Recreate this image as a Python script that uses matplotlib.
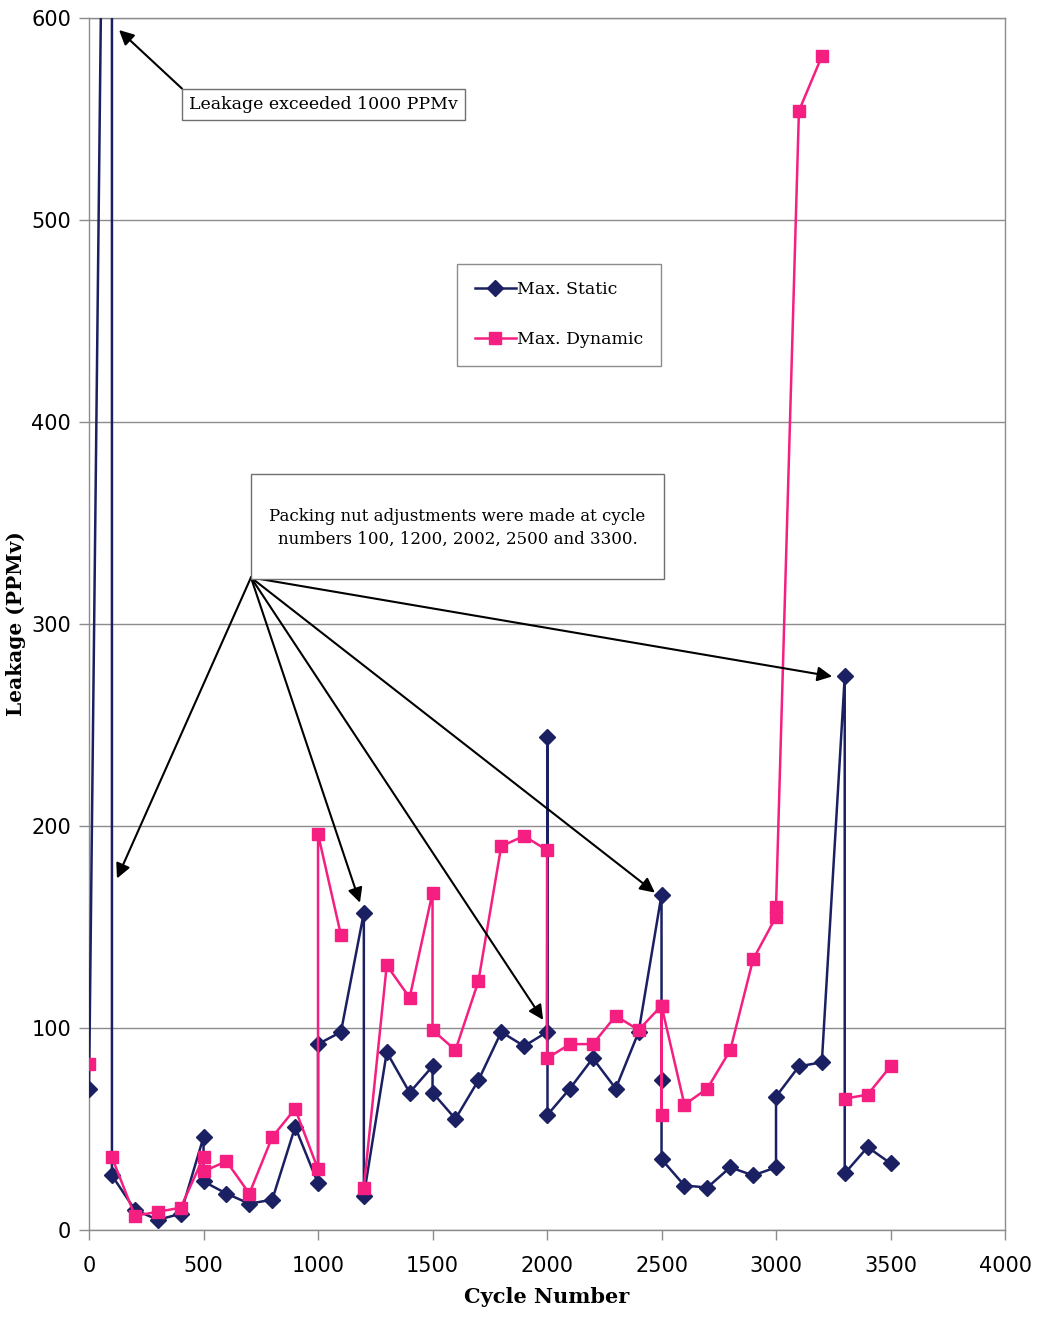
import numpy as np
import matplotlib
matplotlib.use("Agg")
import matplotlib.pyplot as plt
from matplotlib.patches import Rectangle

nan = np.nan

# Max. Static readings (repeated cycle = reading before/after a packing adjustment)
static_cycle = [0, 100, 100, 200, 300, 400, 500, 500, 600, 700, 800, 900,
                1000, 1000, 1100, 1200, 1200, 1300, 1400, 1500, 1500, 1600,
                1700, 1800, 1900, 2000, 2002, 2002, 2100, 2200, 2300, 2400,
                2500, 2500, 2500, 2600, 2700, 2800, 2900, 3000, 3000, 3100,
                3200, 3300, 3300, 3400, 3500]
static_ppm = [70, 1100, 27, 10, 5, 8, 46, 24, 18, 13, 15, 51,
              23, 92, 98, 157, 17, 88, 68, 81, 68, 55,
              74, 98, 91, 98, 244, 57, 70, 85, 70, 98,
              166, 74, 35, 22, 21, 31, 27, 31, 66, 81,
              83, 274, 28, 41, 33]

# Max. Dynamic readings (nan = missing reading, breaks the line)
dynamic_cycle = [0, 100, 100, 200, 300, 400, 500, 500, 600, 700, 800, 900,
                 1000, 1000, 1100, 1200, 1200, 1300, 1400, 1500, 1500, 1600,
                 1700, 1800, 1900, 2000, 2000, 2100, 2200, 2300, 2400,
                 2500, 2500, 2500, 2600, 2700, 2800, 2900, 3000, 3000, 3100,
                 3200, 3300, 3300, 3400, 3500]
dynamic_ppm = [82, nan, 36, 7, 9, 11, 36, 29, 34, 18, 46, 60,
               30, 196, 146, nan, 21, 131, 115, 167, 99, 89,
               123, 190, 195, 188, 85, 92, 92, 106, 99,
               111, 57, 111, 62, 70, 89, 134, 155, 160, 554,
               581, nan, 65, 67, 81]

x_ticks = [0, 500, 1000, 1500, 2000, 2500, 3000, 3500, 4000]
y_ticks = [0, 100, 200, 300, 400, 500, 600]

adjust_targets = [(122, 174), (1183, 162), (1983, 104), (2471, 167), (3245, 274)]

NAVY = "#1b2063"
PINK = "#f41f80"
GRID = "#8c8c8c"
EDGE = "#707070"
SERIF = ["DejaVu Serif"]

fig = plt.figure(figsize=(10.39, 13.18), dpi=100)
ax = fig.add_axes([0.0857, 0.0668, 0.8816, 0.9196])

ax.plot(static_cycle, static_ppm, color=NAVY, lw=1.8, marker="D",
        ms=8.5, mfc=NAVY, mec=NAVY, label="Max. Static", zorder=3)
ax.plot(dynamic_cycle, dynamic_ppm, color=PINK, lw=1.8, marker="s",
        ms=9, mfc=PINK, mec=PINK, label="Max. Dynamic", zorder=4)

ax.set_xlim(0, 4000)
ax.set_ylim(0, 600)
ax.set_xticks(x_ticks)
ax.set_yticks(y_ticks)
ax.tick_params(axis="both", labelsize=15, length=7, width=1, color=GRID,
               direction="out")
ax.tick_params(axis="x", pad=12)
ax.tick_params(axis="y", pad=6)
ax.grid(axis="y", color=GRID, lw=1)
ax.set_axisbelow(True)
for spine in ax.spines.values():
    spine.set_color(GRID)
    spine.set_linewidth(1)

ax.set_xlabel("Cycle Number", fontsize=15, fontweight="bold",
              family=SERIF, labelpad=8)
ax.set_ylabel("Leakage (PPMv)", fontsize=14.5, fontweight="bold",
              family=SERIF)
ax.yaxis.set_label_coords(-0.069, 0.5)

leg = ax.legend(loc="upper left", bbox_to_anchor=(0.402, 0.797),
                frameon=True, fancybox=False, edgecolor=EDGE,
                prop={"family": SERIF, "size": 12.5}, labelspacing=1.9,
                handlelength=2.4, handletextpad=0.05, borderpad=1.0,
                borderaxespad=0)
leg.get_frame().set_linewidth(1)

arrow = dict(arrowstyle="-|>", color="black", lw=1.5, mutation_scale=22,
             shrinkA=0, shrinkB=0)

# "exceeded" note
ax.annotate("", xy=(131, 594), xytext=(406, 565), arrowprops=arrow, zorder=5)
ax.add_patch(Rectangle((406, 549.5), 1236, 15.5, fc="white", ec=EDGE,
                       lw=1, zorder=6))
ax.text(1024, 557.3, "Leakage exceeded 1000 PPMv", ha="center", va="center",
        fontsize=12.5, family=SERIF, zorder=7)

# packing-nut note
for tx, ty in adjust_targets:
    ax.annotate("", xy=(tx, ty), xytext=(707, 323), arrowprops=arrow, zorder=5)
ax.add_patch(Rectangle((707, 322), 1804, 52, fc="white", ec=EDGE,
                       lw=1, zorder=6))
ax.text(1609, 347.5, "Packing nut adjustments were made at cycle\n"
        "numbers 100, 1200, 2002, 2500 and 3300.", ha="center", va="center",
        fontsize=12, family=SERIF, linespacing=1.4, zorder=7)

fig.savefig("out.png", dpi=100)
